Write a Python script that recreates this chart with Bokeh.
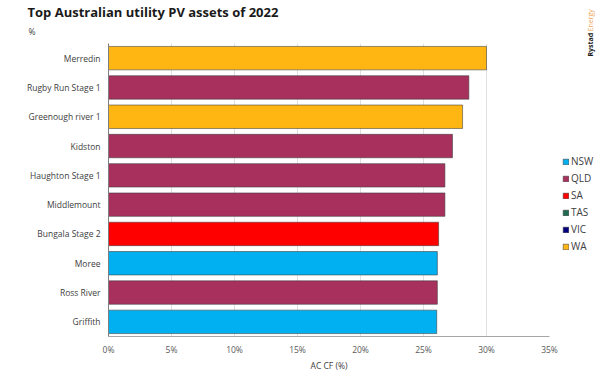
from bokeh.plotting import figure
from bokeh.layouts import row
from bokeh.models import ColumnDataSource, FactorRange, FixedTicker, PrintfTickFormatter, Legend, LegendItem, Label, Title
from bokeh.embed import file_html
from bokeh.resources import INLINE
from math import pi

# ---- data ----
assets = ["Merredin", "Rugby Run Stage 1", "Greenough river 1", "Kidston", "Haughton Stage 1",
          "Middlemount", "Bungala Stage 2", "Moree", "Ross River", "Griffith"]
cf_values = [30.0, 28.6, 28.1, 27.3, 26.7, 26.7, 26.2, 26.1, 26.1, 26.05]
asset_states = ["WA", "QLD", "WA", "QLD", "QLD", "QLD", "SA", "NSW", "QLD", "NSW"]
states = ["NSW", "QLD", "SA", "TAS", "VIC", "WA"]
state_colors = ["#00B0F0", "#A8305D", "#FF0000", "#1E6B50", "#00007F", "#FFB612"]
x_ticks = [0, 5, 10, 15, 20, 25, 30, 35]

FONT = "Open Sans"
BAR_LINE = dict(line_color="#3a3a3a", line_alpha=0.55, line_width=1)

p = figure(width=558, height=376, output_backend="svg", toolbar_location=None,
           y_range=FactorRange(factors=list(reversed(assets))), x_range=(0, 35),
           min_border_left=108, min_border_right=9, min_border_top=42, min_border_bottom=40)
p.outline_line_color = None
p.background_fill_color = "white"
p.border_fill_color = "white"

for st, col in zip(states, state_colors):
    idx = [i for i, s in enumerate(asset_states) if s == st]
    if not idx:
        continue
    src = ColumnDataSource(dict(y=[assets[i] for i in idx], x=[cf_values[i] for i in idx]))
    p.hbar(y="y", right="x", left=0, height=0.8, source=src, fill_color=col, **BAR_LINE)

# axes
for ax in (p.xaxis, p.yaxis):
    ax.major_tick_out = 0
    ax.major_tick_in = 0
    ax.minor_tick_out = 0
    ax.minor_tick_in = 0
    ax.major_tick_line_color = None
    ax.minor_tick_line_color = None

p.xaxis.ticker = FixedTicker(ticks=x_ticks)
p.xaxis.formatter = PrintfTickFormatter(format="%d%%")
p.xaxis.axis_label = "AC CF (%)"
p.xaxis.axis_label_text_font = FONT
p.xaxis.axis_label_text_font_size = "8.5px"
p.xaxis.axis_label_text_font_style = "normal"
p.xaxis.axis_label_text_color = "#404040"
p.xaxis.axis_label_standoff = 2
p.xaxis.major_label_text_font = FONT
p.xaxis.major_label_text_font_size = "8.5px"
p.xaxis.major_label_text_color = "#595959"
p.xaxis.major_label_standoff = 7
p.xaxis.axis_line_color = "#A6A6A6"

p.yaxis.major_label_text_font = FONT
p.yaxis.major_label_text_font_size = "8.5px"
p.yaxis.major_label_text_color = "#404040"
p.yaxis.major_label_standoff = 8
p.yaxis.axis_line_color = "#7F7F7F"

p.xgrid.grid_line_color = "#E0E0E0"
p.xgrid.ticker = FixedTicker(ticks=x_ticks)
p.ygrid.grid_line_color = None

# title and subtitle
p.add_layout(Title(text="%", text_font=FONT, text_font_size="8.5px", text_font_style="normal",
                   text_color="#404040", align="left", offset=-80, standoff=10,
                   vertical_align="top", text_line_height=1.0), "above")
p.add_layout(Title(text="Top Australian utility PV assets of 2022", text_font=FONT,
                   text_font_size="13px", text_font_style="bold", text_color="#1a1a1a",
                   align="left", offset=-81, standoff=0, text_line_height=1.0), "above")

# right strip: legend + branding
b = figure(width=42, height=376, output_backend="svg", toolbar_location=None,
           x_range=(0, 1), y_range=(0, 1), min_border=0,
           min_border_top=0, min_border_bottom=0, min_border_left=0, min_border_right=0)
free_frame = "frame_align" in b.properties()
if free_frame:
    b.frame_align = False
B = 376 if free_frame else 337
b.axis.visible = False
b.grid.visible = False
b.outline_line_color = None
b.border_fill_color = "white"
b.background_fill_color = "white"

items = []
for st, col in zip(states, state_colors):
    src = ColumnDataSource(dict(y=[float("nan")], x=[float("nan")]))
    r = b.hbar(y="y", right="x", left=0, height=0.1, source=src, fill_color=col, **BAR_LINE)
    items.append(LegendItem(label=st, renderers=[r]))

legend = Legend(items=items, location=(4, B - 253), padding=0, margin=0, spacing=3,
                glyph_width=7, glyph_height=7, label_standoff=2,
                label_text_font=FONT, label_text_font_size="10px", label_text_color="#404040",
                border_line_color=None, background_fill_alpha=0)
b.add_layout(legend)

brand_bottom = 56 if free_frame else 90
b.add_layout(Label(x=32, y=376 - brand_bottom - (376 - B), x_units="screen", y_units="screen",
                   angle=pi / 2, text="Rystad", text_font=FONT, text_font_size="7px",
                   text_font_style="bold", text_color="#1a1a1a", text_align="left",
                   text_baseline="middle"))
b.add_layout(Label(x=32, y=376 - brand_bottom - (376 - B) + 25, x_units="screen", y_units="screen",
                   angle=pi / 2, text="Energy", text_font=FONT, text_font_size="7px",
                   text_color="#F2A65A", text_align="left", text_baseline="middle"))

layout = row(p, b, spacing=0)
open("out.html", "w").write(file_html(layout, INLINE))
